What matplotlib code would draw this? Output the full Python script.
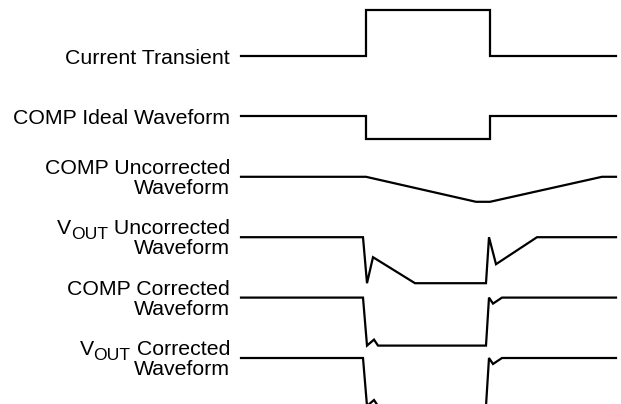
import matplotlib.pyplot as plt

plt.rcParams['font.family'] = ['Liberation Sans', 'DejaVu Sans']

# labels: (subscript after a "V" or None, first line, second line or None)
labels = [
    (None, 'Current Transient', None),
    (None, 'COMP Ideal Waveform', None),
    (None, 'COMP Uncorrected', 'Waveform'),
    ('OUT', 'Uncorrected', 'Waveform'),
    (None, 'COMP Corrected', 'Waveform'),
    ('OUT', 'Corrected', 'Waveform'),
]

# time knots and levels (relative to each trace's baseline)
current_t = [0, 125, 125, 249, 249, 375]
current_v = [0, 0, 46, 46, 0, 0]

comp_ideal_t = [0, 125, 125, 249, 249, 375]
comp_ideal_v = [0, 0, -23, -23, 0, 0]

comp_uncorr_t = [0, 125, 235, 249, 361, 375]
comp_uncorr_v = [0, 0, -25, -25, 0, 0]

vout_uncorr_t = [0, 122, 126, 132, 174, 245, 248, 255, 296, 375]
vout_uncorr_v = [0, 0, -46, -20, -46, -46, 0, -27, 0, 0]

comp_corr_t = [0, 122, 126, 133, 137, 245, 248, 252, 261, 375]
comp_corr_v = [0, 0, -48, -42, -48, -48, 0, -6, 0, 0]

vout_corr_t = [0, 122, 126, 133, 137, 245, 248, 252, 261, 375]
vout_corr_v = [0, 0, -48, -42, -48, -48, 0, -6, 0, 0]

traces = [
    (current_t, current_v),
    (comp_ideal_t, comp_ideal_v),
    (comp_uncorr_t, comp_uncorr_v),
    (vout_uncorr_t, vout_uncorr_v),
    (comp_corr_t, comp_corr_v),
    (vout_corr_t, vout_corr_v),
]

ROW_STEP = 60.4
FS = 15.3       # main label size (pt)
FS_SUB = 12.6   # subscript size


def put_label(ax, x, base, sub, line1, line2):
    if line2 is None:
        ax.text(x, base - 8, line1, ha='right', va='baseline', fontsize=FS)
        return
    main = ax.text(x, base + 3, line1 if sub is None else ' ' + line1,
                   ha='right', va='baseline', fontsize=FS)
    ax.text(x, base - 17, line2, ha='right', va='baseline', fontsize=FS)
    if sub is not None:
        # V with a big subscript, chained to the left of the first line
        s = ax.annotate(sub, xy=(0, base + 3), xycoords=(main, 'data'),
                        xytext=(0, -3.3), textcoords='offset points',
                        ha='right', va='baseline', fontsize=FS_SUB)
        ax.annotate('V', xy=(0, base + 3), xycoords=(s, 'data'),
                    ha='right', va='baseline', fontsize=FS)


fig = plt.figure(figsize=(6.21, 4.04), dpi=100)
ax = fig.add_axes([0, 0, 1, 1])

for i, ((t, v), (sub, l1, l2)) in enumerate(zip(traces, labels)):
    base = -ROW_STEP * i
    ax.plot(t, [base + y for y in v], color='black', lw=1.6,
            solid_joinstyle='miter')
    put_label(ax, -11, base, sub, l1, l2)

ax.set_xlim(-241, 380)
ax.set_ylim(-348, 56)
ax.axis('off')

fig.savefig('out.png', dpi=100)
